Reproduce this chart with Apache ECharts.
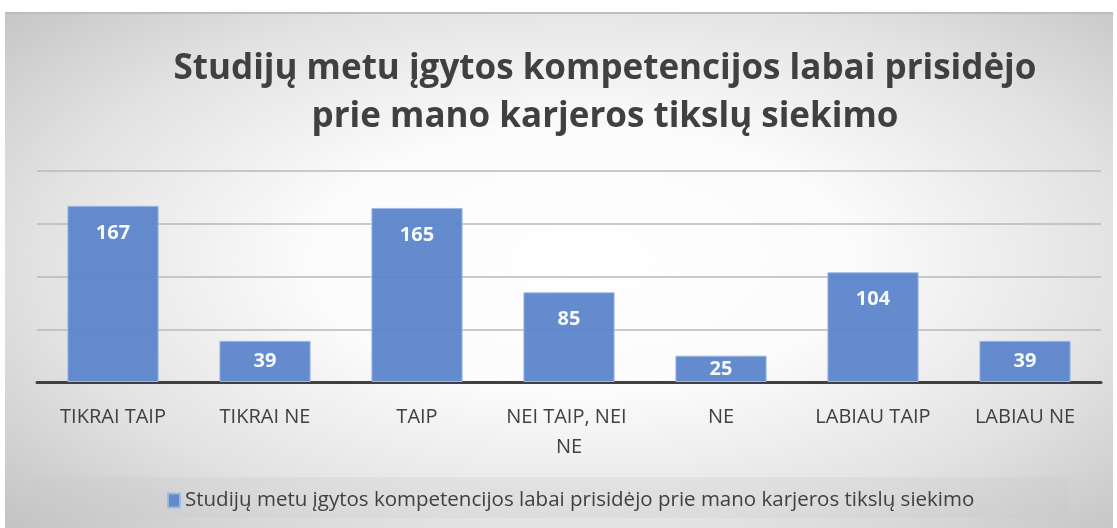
<!DOCTYPE html>
<html>
<head>
<meta charset="utf-8">
<script src="https://cdn.jsdelivr.net/npm/echarts@6/dist/echarts.min.js"></script>
<style>
	html, body { margin: 0; padding: 0; background: #fff; }
	#frame {
		position: absolute; left: 5px; top: 12px; width: 1108px; height: 516px;
		border-top: 2px solid #bdbdbd; box-sizing: border-box;
		background: radial-gradient(ellipse 70% 75% at 52% 48%, #ffffff 0%, #fbfbfb 35%, #e2e2e2 70%, #c4c4c4 100%);
	}
	#chart { width: 1108px; height: 514px; }
</style>
</head>
<body>
<div id="frame"><div id="chart"></div></div>
<script>
var titleText = 'Studijų metu įgytos kompetencijos labai prisidėjo\nprie mano karjeros tikslų siekimo';
var seriesName = 'Studijų metu įgytos kompetencijos labai prisidėjo prie mano karjeros tikslų siekimo';
var categories = [ 'TIKRAI TAIP', 'TIKRAI NE', 'TAIP', 'NEI TAIP, NEI NE', 'NE', 'LABIAU TAIP', 'LABIAU NE' ];
var values = [ 167, 39, 165, 85, 25, 104, 39 ];

var fontFamily = '"Open Sans", "Noto Sans", sans-serif';
var barColor = '#5b85cb';

var chart = echarts.init(document.getElementById('chart'));

var option = {
	animation : false,
	textStyle : {
		fontFamily : fontFamily
	},
	title : {
		text : titleText,
		left : 595,
		textAlign : 'center',
		top : 26,
		textStyle : {
			fontSize : 35,
			fontWeight : 'bold',
			color : '#404040',
			lineHeight : 48,
			fontFamily : fontFamily
		}
	},
	graphic : [ {
		type : 'rect',
		left : 28,
		top : 463,
		shape : {
			width : 1036,
			height : 41
		},
		style : {
			fill : 'rgba(200,200,200,0.25)'
		},
		z : -1
	} ],
	legend : {
		left : 157,
		top : 471,
		itemWidth : 12,
		itemHeight : 14,
		icon : 'rect',
		itemGap : 6,
		textStyle : {
			fontSize : 20.5,
			color : '#404040',
			fontFamily : fontFamily
		},
		data : [ seriesName ]
	},
	grid : {
		left : 32,
		right : 12,
		top : 157,
		bottom : 146,
		containLabel : false
	},
	xAxis : {
		type : 'category',
		data : categories,
		axisLine : {
			lineStyle : {
				color : '#404040',
				width : 3
			}
		},
		axisTick : {
			show : false
		},
		axisLabel : {
			color : '#404040',
			fontSize : 20,
			margin : 20,
			lineHeight : 30,
			width : 145,
			overflow : 'break',
			interval : 0
		}
	},
	yAxis : {
		type : 'value',
		min : 0,
		max : 200,
		interval : 50,
		axisLabel : {
			show : false
		},
		axisLine : {
			show : false
		},
		axisTick : {
			show : false
		},
		splitLine : {
			lineStyle : {
				color : '#b8b8b8',
				width : 1.5
			}
		}
	},
	series : [ {
		name : seriesName,
		type : 'bar',
		data : values.map(function(v) {
			if (v < 40) {
				return {
					value : v,
					label : {
						position : 'inside'
					}
				};
			}
			return v;
		}),
		barCategoryGap : '40%',
		itemStyle : {
			color : barColor,
			borderColor : '#9db8e4',
			borderWidth : 1,
			opacity : 0.95
		},
		label : {
			show : true,
			position : 'insideTop',
			distance : 17,
			color : '#ffffff',
			fontSize : 20,
			fontWeight : 'bold',
			fontFamily : fontFamily
		}
	} ]
};

chart.setOption(option);
</script>
</body>
</html>
